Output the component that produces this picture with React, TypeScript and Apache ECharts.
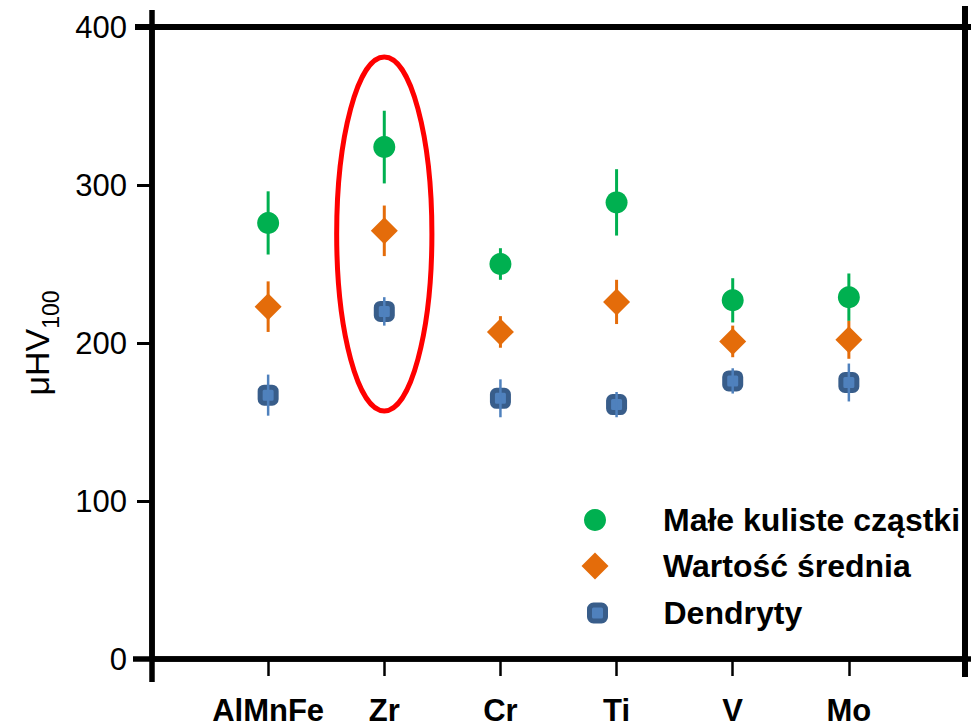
import React, { useEffect, useRef } from "react";
import * as echarts from "echarts";

const categories = ["AlMnFe", "Zr", "Cr", "Ti", "V", "Mo"];
const smallParticles = [276, 324, 250, 289, 227, 229];
const smallParticlesErr = [20, 23, 10, 21, 14, 15];
const meanValue = [223, 271, 207, 226, 201, 202];
const meanValueErr = [16, 16, 10, 14, 10, 12];
const dendrites = [167, 220, 165, 161, 176, 175];
const dendritesErr = [13, 9, 12, 8, 8, 12];
const yTicks = [0, 100, 200, 300, 400];
// highlighted group (Zr): centre [category position, value], radii [x units, value units]
const highlight = { x: 2, y: 269, rx: 0.41, ry: 112 };

const FONT = "'Liberation Sans', Arial, sans-serif";
const GREEN = "#00B050";
const ORANGE = "#E46C0A";
const BLUE = "#4F81BD";
const BLUE_DARK = "#385D8A";

const GRID = { left: 152, right: 6, top: 27, bottom: 69 };
const W = 971;
const H = 728;

function errSeries(vals: number[], errs: number[], color: string, width: number, z: number) {
  return {
    type: "custom",
    z,
    silent: true,
    data: vals.map((v, i) => [i + 1, v - errs[i], v + errs[i]]),
    encode: { x: 0, y: [1, 2] },
    renderItem: (params: any, api: any) => {
      const lo = api.coord([api.value(0), api.value(1)]);
      const hi = api.coord([api.value(0), api.value(2)]);
      return {
        type: "line",
        shape: { x1: lo[0], y1: lo[1], x2: hi[0], y2: hi[1] },
        style: { stroke: color, lineWidth: width },
      };
    },
  };
}

export default function App() {
  const ref = useRef<HTMLDivElement>(null);
  useEffect(() => {
    if (!ref.current) return;
    const chart = echarts.init(ref.current, null, { renderer: "svg" });
    const bottomY = H - GRID.bottom;
    const leftX = GRID.left;
    const rightX = W - GRID.right;
    const legendText = { fontSize: 32, fontWeight: "bold", fontFamily: FONT, color: "#000" };
    const option: any = {
      animation: false,
      backgroundColor: "#ffffff",
      grid: GRID,
      xAxis: {
        type: "value",
        min: 0,
        max: categories.length + 1,
        interval: 1,
        splitLine: { show: false },
        axisLine: { show: true, lineStyle: { color: "#000", width: 5.5 } },
        axisTick: { show: true, length: 17, lineStyle: { color: "#000", width: 2.5 } },
        axisLabel: {
          margin: 36,
          fontSize: 31,
          fontWeight: "bold",
          fontFamily: FONT,
          color: "#000",
          formatter: (v: number) => categories[v - 1] ?? "",
        },
      },
      yAxis: {
        type: "value",
        min: yTicks[0],
        max: yTicks[yTicks.length - 1],
        interval: 100,
        splitLine: { show: false },
        axisLine: { show: true, lineStyle: { color: "#000", width: 5.5 } },
        axisTick: { show: true, length: 15, lineStyle: { color: "#000", width: 3 } },
        axisLabel: { margin: 25, fontSize: 31, fontFamily: FONT, color: "#000" },
        name: "μHV{sub|100}",
        nameLocation: "middle",
        nameRotate: 90,
        nameGap: 98,
        nameTextStyle: {
          fontFamily: FONT,
          fontSize: 34,
          color: "#000",
          rich: {
            sub: { fontFamily: FONT, fontSize: 23, color: "#000", padding: [19, 0, 0, 0], lineHeight: 23, verticalAlign: "top" },
          },
        },
      },
      legend: [
        {
          left: 584, top: 504, padding: 0, itemWidth: 22, itemHeight: 22, selectedMode: false,
          data: [{ name: "Małe kuliste cząstki", icon: "circle", itemStyle: { color: GREEN, borderWidth: 0 } }],
          textStyle: { ...legendText, lineHeight: 22, padding: [0, 0, 0, 52] },
        },
        {
          left: 581.5, top: 550, padding: 0, itemWidth: 27, itemHeight: 27, selectedMode: false,
          data: [{ name: "Wartość średnia", icon: "diamond", itemStyle: { color: ORANGE, borderWidth: 0 } }],
          textStyle: { ...legendText, lineHeight: 27, padding: [0, 0, 0, 49.5] },
        },
        {
          left: 587, top: 597, padding: 0, itemWidth: 16, itemHeight: 16, selectedMode: false,
          data: [{ name: "Dendryty", icon: "roundRect", itemStyle: { color: BLUE, borderColor: BLUE_DARK, borderWidth: 5 } }],
          textStyle: { ...legendText, lineHeight: 16, padding: [0, 0, 0, 53] },
        },
      ],
      graphic: [
        { type: "line", z: 100, shape: { x1: 135, y1: GRID.top, x2: W, y2: GRID.top }, style: { stroke: "#000", lineWidth: 6 } },
        { type: "line", z: 100, shape: { x1: rightX, y1: 6, x2: rightX, y2: 677 }, style: { stroke: "#000", lineWidth: 6 } },
        { type: "line", z: 100, shape: { x1: leftX, y1: 10, x2: leftX, y2: 682 }, style: { stroke: "#000", lineWidth: 5.5 } },
        { type: "line", z: 100, shape: { x1: 133, y1: bottomY, x2: W, y2: bottomY }, style: { stroke: "#000", lineWidth: 5.5 } },
      ],
      series: [
        errSeries(smallParticles, smallParticlesErr, GREEN, 3, 1),
        {
          name: "Małe kuliste cząstki",
          type: "scatter",
          z: 2,
          symbol: "circle",
          symbolSize: 22,
          itemStyle: { color: GREEN, opacity: 1 },
          data: smallParticles.map((v, i) => [i + 1, v]),
        },
        errSeries(meanValue, meanValueErr, ORANGE, 3, 3),
        {
          name: "Wartość średnia",
          type: "scatter",
          z: 4,
          symbol: "diamond",
          symbolSize: 27,
          itemStyle: { color: ORANGE, opacity: 1 },
          data: meanValue.map((v, i) => [i + 1, v]),
        },
        {
          name: "Dendryty",
          type: "scatter",
          z: 5,
          symbol: "roundRect",
          symbolSize: 16,
          itemStyle: { color: BLUE, borderColor: BLUE_DARK, borderWidth: 5, opacity: 1 },
          data: dendrites.map((v, i) => [i + 1, v]),
        },
        errSeries(dendrites, dendritesErr, BLUE, 2.5, 6),
        {
          type: "custom",
          z: 7,
          silent: true,
          data: [[highlight.x, highlight.y, highlight.rx, highlight.ry]],
          encode: { x: 0, y: 1 },
          renderItem: (params: any, api: any) => {
            const c = api.coord([api.value(0), api.value(1)]);
            const s = api.size([api.value(2), api.value(3)]);
            return {
              type: "ellipse",
              shape: { cx: c[0], cy: c[1], rx: s[0], ry: s[1] },
              style: { fill: "none", stroke: "#FF0000", lineWidth: 5 },
            };
          },
        },
      ],
    };
    chart.setOption(option);
    return () => chart.dispose();
  }, []);
  return (
    <div
      ref={ref}
      style={{ position: "fixed", left: 0, top: 0, width: W, height: H, background: "#fff" }}
    />
  );
}
